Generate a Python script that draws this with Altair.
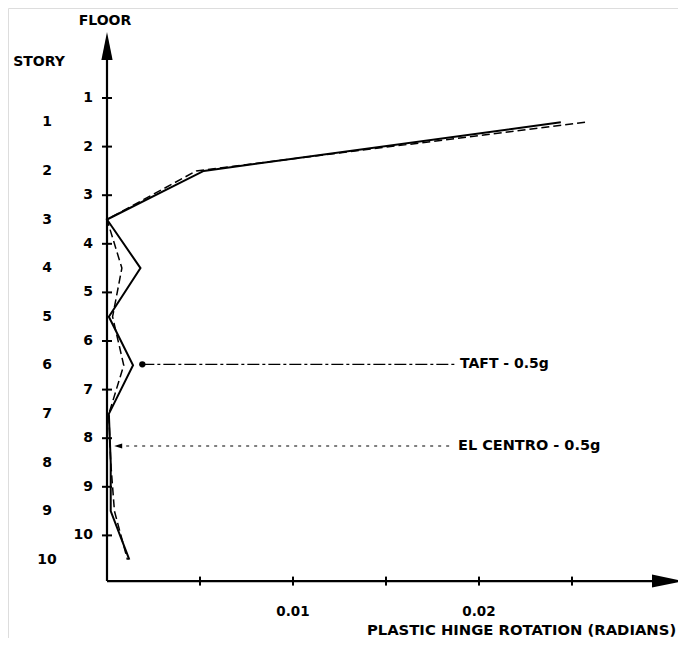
import altair as alt
import pandas as pd

# ---- data ----
stories = [1, 2, 3, 4, 5, 6, 7, 8, 9, 10]
taft = [0.0244, 0.0052, 0.0000, 0.0018, 0.0001, 0.0014, 0.0001, 0.0002, 0.0002, 0.0012]
el_centro = [0.0257, 0.0048, 0.0000, 0.0008, 0.0003, 0.0009, 0.0001, 0.0002, 0.0004, 0.0011]
floors = [1, 2, 3, 4, 5, 6, 7, 8, 9, 10]
x_ticks = [0.005, 0.01, 0.015, 0.02, 0.025]
x_tick_labels = ["0.01", "0.02"]
x_tick_label_vals = [0.01, 0.02]

X_AXIS_Y = 10.94     # level (in floor units) of the horizontal axis
Y_AXIS_TOP = 0.01
X_AXIS_END = 0.0297

xs = alt.Scale(domain=[-0.0053226, 0.0306989], nice=False, zero=False)
ys = alt.Scale(domain=[-0.85185, 12.1111], reverse=True, nice=False, zero=False)

FONT = "DejaVu Sans"

def X(field):
    return alt.X(field, type="quantitative", scale=xs, axis=None)

def Y(field):
    return alt.Y(field, type="quantitative", scale=ys, axis=None)

df = pd.DataFrame({
    "story": stories,
    "level": [s + 0.5 for s in stories],
    "taft": taft,
    "el_centro": el_centro,
})

# axes
yaxis = alt.Chart(pd.DataFrame({"x": [0.0], "y": [Y_AXIS_TOP], "y2": [X_AXIS_Y]})).mark_rule(
    color="black", strokeWidth=2.2).encode(x=X("x"), y=Y("y"), y2="y2")
xaxis = alt.Chart(pd.DataFrame({"x": [0.0], "x2": [X_AXIS_END], "y": [X_AXIS_Y]})).mark_rule(
    color="black", strokeWidth=2.2).encode(x=X("x"), x2="x2", y=Y("y"))

up_arrow = alt.Chart(pd.DataFrame({"x": [0.0], "y": [-0.07]})).mark_point(
    shape="M0,-1L0.4,1L-0.4,1Z", filled=True, size=784, color="black", opacity=1, strokeWidth=0
).encode(x=X("x"), y=Y("y"))
right_arrow = alt.Chart(pd.DataFrame({"x": [0.030134], "y": [X_AXIS_Y]})).mark_point(
    shape="M1,0L-1,0.42L-1,-0.42Z", filled=True, size=961, color="black", opacity=1, strokeWidth=0
).encode(x=X("x"), y=Y("y"))

# ticks
ytick = alt.Chart(pd.DataFrame({"x": [0.0] * len(floors), "y": floors})).mark_point(
    shape="M-1,0L1,0", size=100, color="black", strokeWidth=2, opacity=1
).encode(x=X("x"), y=Y("y"))
xtick = alt.Chart(pd.DataFrame({"x": x_ticks, "y": [X_AXIS_Y] * len(x_ticks)})).mark_point(
    shape="M0,-1L0,1", size=81, color="black", strokeWidth=2, opacity=1
).encode(x=X("x"), y=Y("y"))

# labels
floor_lbl = alt.Chart(pd.DataFrame({"x": [0.0] * len(floors), "y": floors, "t": [str(f) for f in floors]})).mark_text(
    font=FONT, fontWeight="bold", fontSize=14, align="right", baseline="middle", dx=-14
).encode(x=X("x"), y=Y("y"), text="t:N")
story_lbl = alt.Chart(pd.DataFrame({"x": [0.0] * len(stories), "y": [s + 0.5 for s in stories],
                                     "t": [str(s) for s in stories]})).mark_text(
    font=FONT, fontWeight="bold", fontSize=14, align="center", baseline="middle", dx=-60
).encode(x=X("x"), y=Y("y"), text="t:N")
xlbl = alt.Chart(pd.DataFrame({"x": x_tick_label_vals, "y": [X_AXIS_Y] * 2, "t": x_tick_labels})).mark_text(
    font=FONT, fontWeight="bold", fontSize=13.5, align="center", baseline="middle", dy=31
).encode(x=X("x"), y=Y("y"), text="t:N")

floor_title = alt.Chart(pd.DataFrame({"x": [0.0], "y": [Y_AXIS_TOP], "t": ["FLOOR"]})).mark_text(
    font=FONT, fontWeight="bold", fontSize=14, align="center", baseline="middle", dx=-2, dy=-29
).encode(x=X("x"), y=Y("y"), text="t:N")
story_title = alt.Chart(pd.DataFrame({"x": [0.0], "y": [Y_AXIS_TOP], "t": ["STORY"]})).mark_text(
    font=FONT, fontWeight="bold", fontSize=14, align="center", baseline="middle", dx=-68, dy=12
).encode(x=X("x"), y=Y("y"), text="t:N")
x_title = alt.Chart(pd.DataFrame({"x": [0.0306], "y": [X_AXIS_Y], "t": ["PLASTIC  HINGE  ROTATION  (RADIANS)"]})).mark_text(
    font=FONT, fontWeight="bold", fontSize=14.8, align="right", baseline="middle", dy=50
).encode(x=X("x"), y=Y("y"), text="t:N")

# data lines
taft_line = alt.Chart(df).mark_line(color="black", strokeWidth=2).encode(
    x=X("taft"), y=Y("level"), order=alt.Order("story:Q"))
elc_line = alt.Chart(df).mark_line(color="black", strokeWidth=1.5, strokeDash=[8, 4]).encode(
    x=X("el_centro"), y=Y("level"), order=alt.Order("story:Q"))

# leader lines + series labels
lead = pd.DataFrame({
    "x": [0.0019, 0.0006], "x2": [0.0187, 0.0186], "y": [6.48, 8.16],
    "t": ["TAFT - 0.5g", "EL CENTRO - 0.5g"], "tx": [0.01898, 0.01887],
})
taft_lead = alt.Chart(lead.iloc[[0]]).mark_rule(color="black", strokeWidth=1.2, strokeDash=[12, 3, 3, 3]).encode(
    x=X("x"), x2="x2", y=Y("y"))
elc_lead = alt.Chart(lead.iloc[[1]]).mark_rule(color="black", strokeWidth=1.2, strokeDash=[3, 5]).encode(
    x=X("x"), x2="x2", y=Y("y"))
taft_dot = alt.Chart(lead.iloc[[0]]).mark_point(shape="circle", filled=True, size=40, color="black", opacity=1).encode(
    x=X("x"), y=Y("y"))
elc_head = alt.Chart(lead.iloc[[1]]).mark_point(shape="M-1,0L1,-0.6L1,0.6Z", filled=True, size=64,
                                                color="black", opacity=1, strokeWidth=0).encode(
    x=X("x"), y=Y("y"))
taft_txt = alt.Chart(lead.iloc[[0]]).mark_text(font=FONT, fontWeight="bold", fontSize=14, align="left", baseline="middle").encode(
    x=X("tx"), y=Y("y"), text="t:N")
elc_txt = alt.Chart(lead.iloc[[1]]).mark_text(font=FONT, fontWeight="bold", fontSize=14.5, align="left", baseline="middle").encode(
    x=X("tx"), y=Y("y"), text="t:N")

chart = alt.layer(
    yaxis, xaxis, up_arrow, right_arrow, ytick, xtick,
    floor_lbl, story_lbl, xlbl, floor_title, story_title, x_title,
    taft_line, elc_line, taft_lead, elc_lead, taft_dot, elc_head, taft_txt, elc_txt,
).properties(
    width=670, height=630, padding=0, autosize=alt.AutoSizeParams(type="none"),
).configure_view(stroke=None).configure(background="white")

chart.save("out.html", embed_options={"renderer": "svg", "actions": False})
